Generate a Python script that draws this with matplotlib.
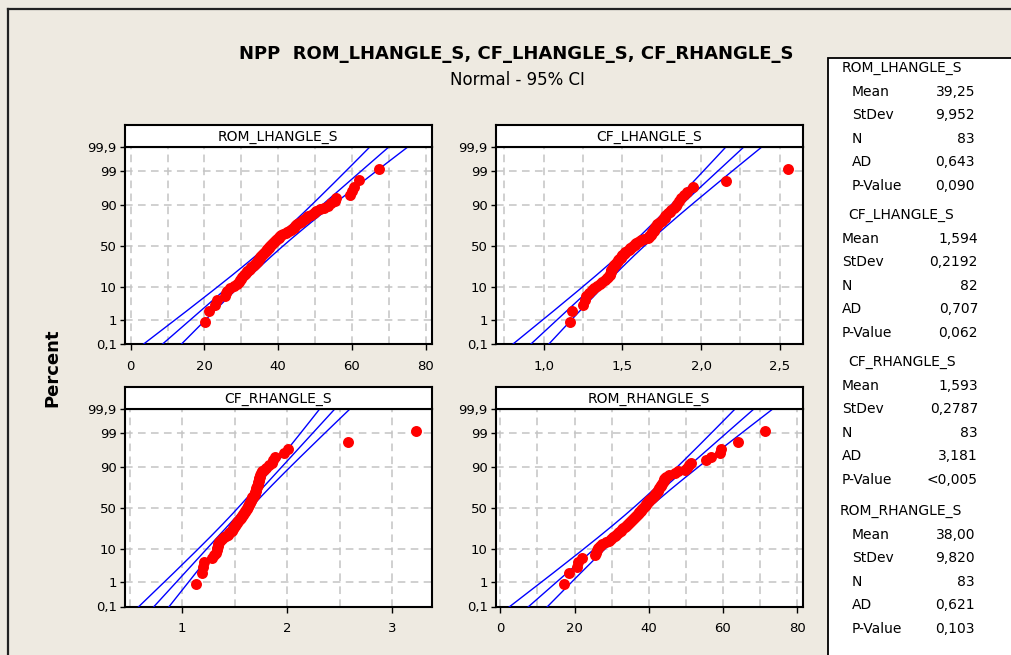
import numpy as np
import matplotlib
matplotlib.use('Agg')
import matplotlib.pyplot as plt
from matplotlib.patches import Rectangle
from matplotlib.ticker import FixedLocator, MultipleLocator, FuncFormatter
from statistics import NormalDist

# values (sorted)
rom_lhangle = [20.2, 21.3, 22.8, 23.3, 25.5, 25.8, 26.2, 26.8, 28.0, 28.9,
               29.3, 29.7, 30.0, 30.3, 30.6, 30.9, 31.3, 31.6, 32.0, 32.4,
               32.7, 33.1, 33.4, 33.7, 34.0, 34.2, 34.4, 34.6, 34.8, 35.0,
               35.2, 35.4, 35.6, 35.9, 36.1, 36.3, 36.6, 36.9, 37.1, 37.4,
               37.6, 37.9, 38.1, 38.4, 38.7, 38.9, 39.2, 39.5, 39.8, 40.1,
               40.3, 40.5, 40.8, 41.4, 42.0, 42.5, 43.0, 43.4, 43.8, 44.2,
               44.6, 44.9, 45.2, 45.6, 46.2, 46.8, 47.3, 47.8, 48.2, 48.8,
               49.6, 50.4, 51.3, 52.5, 53.5, 54.3, 55.3, 55.8, 59.6, 60.1,
               60.6, 61.9, 67.3]
cf_lhangle = [1.17, 1.18, 1.25, 1.26, 1.27, 1.29, 1.31, 1.32, 1.34, 1.36,
              1.37, 1.39, 1.40, 1.41, 1.42, 1.42, 1.43, 1.43, 1.43, 1.44,
              1.44, 1.45, 1.45, 1.46, 1.46, 1.47, 1.47, 1.48, 1.49, 1.49,
              1.50, 1.50, 1.51, 1.52, 1.52, 1.53, 1.54, 1.55, 1.55, 1.56,
              1.57, 1.58, 1.58, 1.59, 1.60, 1.61, 1.62, 1.64, 1.66, 1.67,
              1.67, 1.68, 1.68, 1.69, 1.69, 1.70, 1.70, 1.70, 1.71, 1.71,
              1.72, 1.72, 1.73, 1.74, 1.75, 1.76, 1.77, 1.77, 1.78, 1.79,
              1.80, 1.81, 1.83, 1.84, 1.85, 1.86, 1.87, 1.89, 1.91, 1.95,
              2.16, 2.55]
cf_rhangle = [1.13, 1.19, 1.20, 1.21, 1.28, 1.30, 1.32, 1.33, 1.33, 1.34,
              1.34, 1.35, 1.36, 1.38, 1.40, 1.42, 1.44, 1.45, 1.46, 1.47,
              1.48, 1.48, 1.49, 1.50, 1.50, 1.51, 1.52, 1.52, 1.53, 1.54,
              1.55, 1.56, 1.56, 1.57, 1.58, 1.58, 1.59, 1.60, 1.60, 1.61,
              1.62, 1.62, 1.63, 1.63, 1.64, 1.64, 1.65, 1.65, 1.66, 1.66,
              1.67, 1.67, 1.67, 1.68, 1.68, 1.69, 1.69, 1.69, 1.70, 1.70,
              1.70, 1.71, 1.71, 1.72, 1.72, 1.72, 1.73, 1.73, 1.73, 1.74,
              1.74, 1.75, 1.76, 1.78, 1.80, 1.83, 1.86, 1.87, 1.88, 1.97,
              2.01, 2.58, 3.23]
rom_rhangle = [17.3, 18.5, 20.6, 20.9, 22.1, 25.4, 25.7, 26.0, 26.3, 26.8,
               27.5, 28.5, 29.2, 29.8, 30.3, 30.8, 31.2, 31.7, 32.1, 32.5,
               32.9, 33.2, 33.5, 33.8, 34.1, 34.4, 34.6, 34.9, 35.2, 35.5,
               35.7, 36.0, 36.3, 36.6, 36.8, 37.0, 37.3, 37.5, 37.8, 38.0,
               38.3, 38.5, 38.7, 39.0, 39.2, 39.4, 39.6, 39.8, 40.0, 40.2,
               40.5, 40.8, 41.1, 41.4, 41.6, 41.8, 42.0, 42.2, 42.4, 42.6,
               42.8, 43.0, 43.2, 43.4, 43.6, 43.8, 44.0, 44.2, 44.4, 44.7,
               45.5, 47.0, 48.0, 49.8, 50.3, 50.8, 51.4, 55.5, 56.8, 59.2,
               59.6, 64.0, 71.3]

names = ['ROM_LHANGLE_S', 'CF_LHANGLE_S', 'CF_RHANGLE_S', 'ROM_RHANGLE_S']
means = [39.25, 1.594, 1.593, 38.00]
stdevs = [9.952, 0.2192, 0.2787, 9.820]
ns = [83, 82, 83, 83]
ad = ['0,643', '0,707', '3,181', '0,621']
pvals = ['0,090', '0,062', '<0,005', '0,103']
mean_lbl = ['39,25', '1,594', '1,593', '38,00']
sd_lbl = ['9,952', '0,2192', '0,2787', '9,820']
pct_ticks = [0.1, 1, 10, 50, 90, 99, 99.9]
pct_lbls = ['0,1', '1', '10', '50', '90', '99', '99,9']

nd = NormalDist()
_ppf = np.vectorize(lambda p: nd.inv_cdf(min(max(p, 1e-12), 1 - 1e-12)), otypes=[float])
_cdf = np.vectorize(nd.cdf, otypes=[float])

def fwd(y):
    return _ppf(np.asarray(y, dtype=float) / 100.0)

def inv(z):
    return 100.0 * _cdf(np.asarray(z, dtype=float))

W, H = 1011, 655
BG = '#EEEAE1'
fig = plt.figure(figsize=(W / 100, H / 100), dpi=100, facecolor=BG)

def fx(px):
    return px / W

def fy(py):
    return 1 - py / H

# outer frame lines
fig.add_artist(plt.Line2D([fx(8), 1], [fy(9), fy(9)], color='#222222', lw=1.6))
fig.add_artist(plt.Line2D([fx(8), fx(8)], [fy(9), 0], color='#222222', lw=1.6))

panels = [
    # data, left px, top px, xlim, major, minor, formatter
    (rom_lhangle, 125, 147, (-1.55, 81.6), 20, 10, lambda v, p: f'{v:.0f}'),
    (cf_lhangle, 496, 147, (0.698, 2.644), 0.5, 0.25, lambda v, p: f'{v:.1f}'.replace('.', ',')),
    (cf_rhangle, 125, 409, (0.455, 3.376), 1, 0.5, lambda v, p: f'{v:.0f}'),
    (rom_rhangle, 496, 409, (-1.16, 81.45), 20, 10, lambda v, p: f'{v:.0f}'),
]
pw, ph, hh = 306.5, 197.5, 22.5

for k, (vals, lx, ty, xl, maj, mnr, fmt) in enumerate(panels):
    ax = fig.add_axes([fx(lx), fy(ty + ph), pw / W, ph / H])
    ax.set_yscale('function', functions=(fwd, inv))
    ax.set_ylim(0.1, 99.9)
    ax.set_xlim(*xl)
    n = ns[k]
    x = np.array(vals)
    ranks = np.arange(1, n + 1)
    pct = 100.0 * (ranks - 0.3) / (n + 0.4)

    # fitted line and 95% CI bands
    pp = np.linspace(0.05, 99.95, 400)
    z = fwd(pp)
    mu, sd = means[k], stdevs[k]
    ctr = mu + z * sd
    hw = 1.96 * sd * np.sqrt(1.0 / n + z ** 2 / (2.0 * n))
    for line in (ctr - hw, ctr, ctr + hw):
        ax.plot(line, pp, color='#0000FF', lw=1.0, zorder=3)
    ax.plot(x, pct, 'o', color='#FF0000', ms=7.9, mec='#FF0000', mew=0, zorder=4)

    ax.xaxis.set_major_locator(MultipleLocator(maj))
    ax.xaxis.set_minor_locator(MultipleLocator(mnr))
    ax.xaxis.set_major_formatter(FuncFormatter(fmt))
    ax.yaxis.set_major_locator(FixedLocator(pct_ticks))
    ax.yaxis.set_minor_locator(FixedLocator([]))
    ax.set_yticklabels(pct_lbls)
    ax.grid(True, which='both', axis='x', color='#C4C4C4', ls=(0, (5, 3.5)), lw=1.1)
    ax.grid(True, which='major', axis='y', color='#C4C4C4', ls=(0, (5, 3.5)), lw=1.1)
    ax.set_axisbelow(True)
    ax.tick_params(axis='x', which='major', length=4.5, width=1, pad=7, labelsize=9.5)
    ax.tick_params(axis='y', which='major', length=3.5, width=1, pad=2.5, labelsize=9.5)
    ax.tick_params(which='minor', length=0)
    for s in ax.spines.values():
        s.set_linewidth(1.5)

    hax = fig.add_axes([fx(lx), fy(ty), pw / W, hh / H])
    hax.set_xticks([])
    hax.set_yticks([])
    hax.set_facecolor('white')
    for s in hax.spines.values():
        s.set_linewidth(1.5)
    hax.text(0.5, 0.45, names[k], ha='center', va='center', fontsize=10)

fig.text(fx(516), fy(54), 'NPP  ROM_LHANGLE_S, CF_LHANGLE_S, CF_RHANGLE_S',
         ha='center', va='center', fontsize=13, fontweight='bold')
fig.text(fx(517), fy(80), 'Normal - 95% CI', ha='center', va='center', fontsize=12)
fig.text(fx(52), fy(368), 'Percent', ha='center', va='center', rotation=90,
         fontsize=13, fontweight='bold')

# stats box
fig.add_artist(Rectangle((fx(828), -0.01), 1.02 - fx(828), fy(58) + 0.01, transform=fig.transFigure,
                         facecolor='white', edgecolor='black', lw=1.3))
group_top = [68, 215, 362, 511]
head_x = [842, 848, 848, 840]
lab_x = [852, 842, 842, 852]
val_x = [975, 978, 978, 975]
row_gap = 23.6
for k in range(4):
    y0 = group_top[k]
    fig.text(fx(head_x[k]), fy(y0), names[k], ha='left', va='center', fontsize=10)
    rows = [('Mean', mean_lbl[k]), ('StDev', sd_lbl[k]), ('N', str(ns[k])),
            ('AD', ad[k]), ('P-Value', pvals[k])]
    for j, (lab, val) in enumerate(rows):
        yy = y0 + (j + 1) * row_gap
        fig.text(fx(lab_x[k]), fy(yy), lab, ha='left', va='center', fontsize=10)
        fig.text(fx(val_x[k]), fy(yy), val, ha='right', va='center', fontsize=10)

fig.savefig('out.png', dpi=100, facecolor=BG)
